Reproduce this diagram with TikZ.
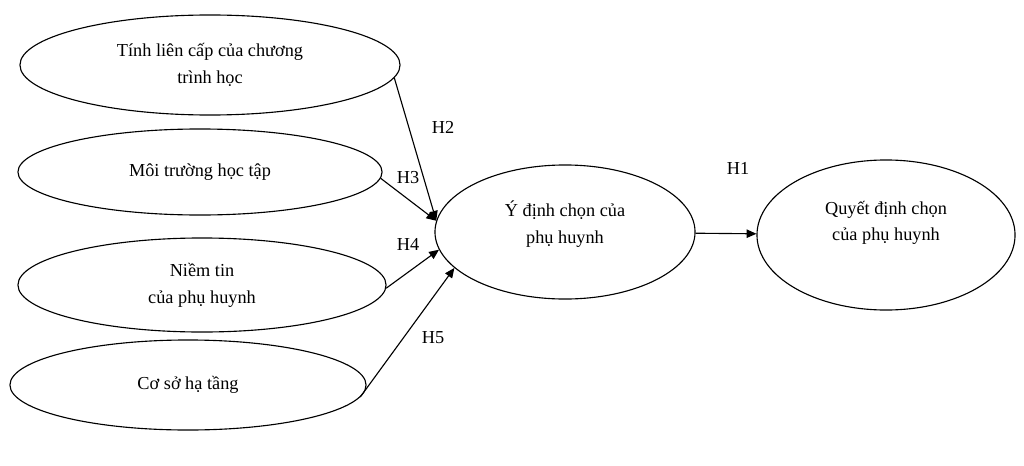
\documentclass[tikz,border=0pt]{standalone}
\usepackage{fontspec}
\setmainfont{Liberation Serif}
\usetikzlibrary{shapes.geometric,arrows.meta,positioning}
\tikzset{
  factor/.style={ellipse, draw, thick, inner sep=0pt, align=center, font=\fontsize{13}{19}\selectfont},
  link/.style={-{Triangle[length=7pt,width=6pt]}, thick},
  hlabel/.style={font=\fontsize{13}{15}\selectfont}
}
\begin{document}
\begin{tikzpicture}[x=0.025cm, y=-0.025cm]
    \useasboundingbox (0,0) rectangle (1024,466);
    % Factors
    \node[factor, minimum width=9.5cm, minimum height=2.5cm] (lienCap) at (210,65) {Tính liên cấp của chương\\trình học};
    \node[factor, minimum width=9.1cm, minimum height=2.15cm] (moiTruong) at (200,172) {Môi trường học tập};
    \node[factor, minimum width=9.2cm, minimum height=2.35cm] (niemTin) at (202,285) {Niềm tin\\của phụ huynh};
    \node[factor, minimum width=8.9cm, minimum height=2.25cm] (coSo) at (188,385) {Cơ sở hạ tầng};

    % Intention and decision
    \node[factor, minimum width=6.5cm, minimum height=3.35cm, text depth=14pt] (yDinh) at (565,232) {Ý định chọn của\\phụ huynh};
    \node[factor, minimum width=6.45cm, minimum height=3.75cm, text depth=20pt] (quyetDinh) at (886,235) {Quyết định chọn\\của phụ huynh};

    % Arrows
    \draw[link] (lienCap.-4.6) -- (yDinh.175);
    \draw[link] (moiTruong.-2) -- (yDinh.175);
    \draw[link] (niemTin.-1) -- (yDinh.188);
    \draw[link] (coSo.-4) -- (yDinh.198);
    \draw[link] (yDinh) -- (quyetDinh);

    % Hypotheses
    \node[hlabel] (h2) at (443,127) {H2};
    \node[hlabel] (h3) at (408,178) {H3};
    \node[hlabel] (h4) at (408,244) {H4};
    \node[hlabel] (h5) at (433,338) {H5};
    \node[hlabel] (h1) at (738,168) {H1};
\end{tikzpicture}
\end{document}
